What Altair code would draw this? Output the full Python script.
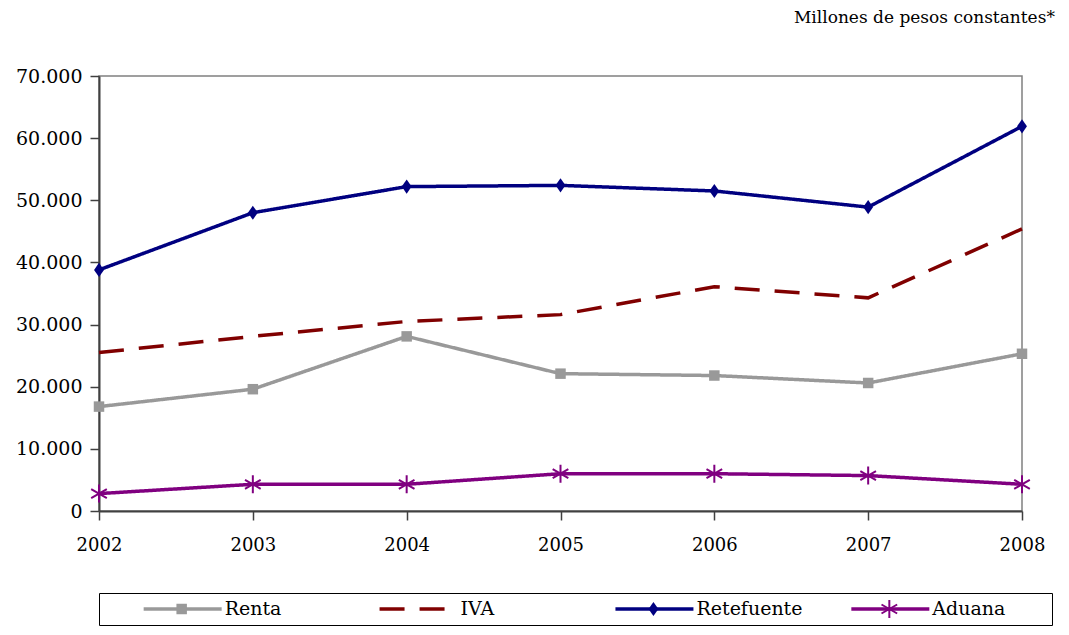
import altair as alt
import pandas as pd

years = ["2002", "2003", "2004", "2005", "2006", "2007", "2008"]
renta = [16800, 19600, 28100, 22100, 21800, 20600, 25300]
iva = [25500, 28100, 30500, 31600, 36100, 34300, 45400]
retefuente = [38800, 48000, 52200, 52400, 51500, 48900, 61900]
aduana = [2800, 4300, 4300, 6000, 6000, 5700, 4300]
series = ["Renta", "IVA", "Retefuente", "Aduana"]
colors = ["#999999", "#800000", "#000080", "#800080"]
unit_title = "Millones de pesos constantes*"

values = {"Renta": renta, "IVA": iva, "Retefuente": retefuente, "Aduana": aduana}
rows = []
for s in series:
    for y, v in zip(years, values[s]):
        rows.append({"year": y, "serie": s, "valor": v})
df = pd.DataFrame(rows)

FONT = "DejaVu Serif"
DIAMOND = "M0,-1L0.7,0L0,1L-0.7,0Z"
ASTER = "M0,-1L0,1M-0.87,-0.5L0.87,0.5M-0.87,0.5L0.87,-0.5"

color_enc = alt.Color("serie:N", scale=alt.Scale(domain=series, range=colors), legend=None)
dash_enc = alt.StrokeDash("serie:N", scale=alt.Scale(domain=series, range=[[1, 0], [25, 15], [1, 0], [1, 0]]), legend=None)

x_enc = alt.X("year:O", scale=alt.Scale(type="point", padding=0),
              axis=alt.Axis(title=None, labelAngle=0, labelFontSize=18, labelFont=FONT,
                            labelColor="black", labelPadding=16, tickSize=9,
                            domainColor="#404040", tickColor="#404040", domainWidth=2, tickWidth=1.5))
y_enc = alt.Y("valor:Q", scale=alt.Scale(domain=[0, 70000]),
              axis=alt.Axis(title=None, values=list(range(0, 70001, 10000)), grid=False,
                            labelExpr="replace(format(datum.value, ','), ',', '.')",
                            labelFontSize=19, labelFont=FONT, labelColor="black",
                            labelPadding=8, tickSize=9,
                            domainColor="#404040", tickColor="#404040", domainWidth=2, tickWidth=1.5))

base = alt.Chart(df)
lines = base.mark_line(strokeWidth=3.5).encode(x=x_enc, y=y_enc, color=color_enc, strokeDash=dash_enc,
                                                detail="serie:N")
filled_pts = base.transform_filter(
    alt.FieldOneOfPredicate(field="serie", oneOf=["Renta", "Retefuente"])
).mark_point(filled=True, opacity=1).encode(
    x=x_enc, y=y_enc, color=color_enc,
    shape=alt.Shape("serie:N", scale=alt.Scale(domain=["Renta", "Retefuente"], range=["square", DIAMOND]), legend=None),
    size=alt.Size("serie:N", scale=alt.Scale(domain=["Renta", "Retefuente"], range=[110, 200]), legend=None),
)
aster_pts = base.transform_filter(alt.datum.serie == "Aduana").mark_point(
    shape=ASTER, filled=False, strokeWidth=2, size=324, opacity=1
).encode(x=x_enc, y=y_enc, color=color_enc)

main = alt.layer(lines, filled_pts, aster_pts).properties(
    width=923, height=435,
    view=alt.ViewBackground(stroke="#808080", strokeWidth=1.5),
    title=alt.Title(unit_title, anchor="end", fontSize=17, font=FONT, fontWeight="normal",
                    color="black", offset=40, dx=10),
)

leg_df = pd.DataFrame({"serie": series})
xleg = alt.X("serie:N", sort=series, scale=alt.Scale(type="point", padding=0.52), axis=None)
leg_base = alt.Chart(leg_df)
leg_line = leg_base.mark_rule(strokeWidth=3.5, xOffset=-78, x2Offset=0).encode(
    x=xleg, x2=alt.X2("serie:N"), color=color_enc, strokeDash=dash_enc)
leg_filled = leg_base.transform_filter(
    alt.FieldOneOfPredicate(field="serie", oneOf=["Renta", "Retefuente"])
).mark_point(filled=True, opacity=1, xOffset=-40).encode(
    x=xleg, color=color_enc,
    shape=alt.Shape("serie:N", scale=alt.Scale(domain=["Renta", "Retefuente"], range=["square", DIAMOND]), legend=None),
    size=alt.Size("serie:N", scale=alt.Scale(domain=["Renta", "Retefuente"], range=[110, 200]), legend=None),
)
leg_aster = leg_base.transform_filter(alt.datum.serie == "Aduana").mark_point(
    shape=ASTER, filled=False, strokeWidth=2, size=324, opacity=1, xOffset=-40
).encode(x=xleg, color=color_enc)
leg_text = leg_base.mark_text(align="left", dx=3, fontSize=19, font=FONT, color="black").encode(
    x=xleg, text="serie:N")

legend = alt.layer(leg_line, leg_filled, leg_aster, leg_text).properties(
    width=953, height=32,
    view=alt.ViewBackground(stroke="#000000", strokeWidth=1),
)

chart = alt.vconcat(main, legend, spacing=82, bounds="flush").properties(
    padding={"left": 6, "top": 0, "right": 0, "bottom": 0}
).configure(background="white")

chart.save("out.html", embed_options={"renderer": "svg", "actions": False})
